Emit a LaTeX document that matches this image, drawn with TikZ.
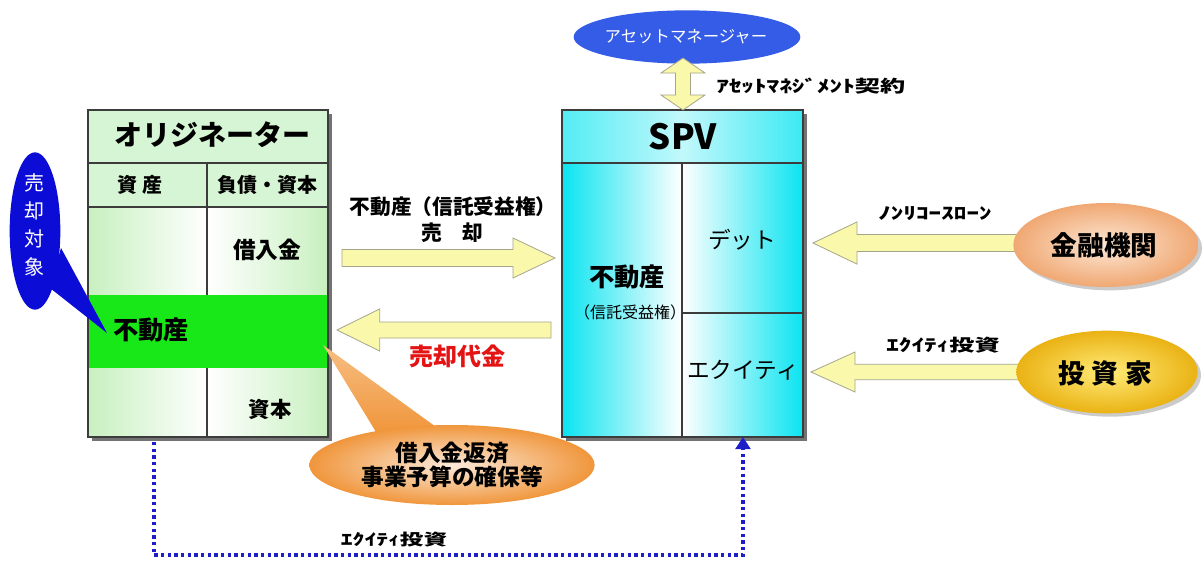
\documentclass[tikz,border=0pt]{standalone}
\usepackage{fontspec}
\setmainfont{Noto Sans CJK JP}
\newfontfamily\hwfont[FakeStretch=1.5]{Noto Sans CJK JP}
\usetikzlibrary{calc,shapes.geometric,arrows.meta,shadows}
\newcommand\fsz[2]{\fontsize{#1}{#2}\selectfont}
\definecolor{ohdr}{RGB}{214,245,212}
\definecolor{olight}{RGB}{200,240,192}
\definecolor{oband}{RGB}{24,232,24}
\definecolor{spvc}{RGB}{10,228,240}
\definecolor{amblue}{RGB}{52,92,230}
\definecolor{bubblue}{RGB}{12,12,215}
\definecolor{arrowfill}{RGB}{250,248,170}
\definecolor{arrowline}{RGB}{165,165,140}
\definecolor{dotblue}{RGB}{30,30,200}
\definecolor{orin}{RGB}{252,234,218}
\definecolor{orout}{RGB}{240,150,60}
\definecolor{ortail}{RGB}{247,190,130}
\definecolor{bankin}{RGB}{253,232,214}
\definecolor{bankout}{RGB}{240,168,115}
\definecolor{invin}{RGB}{255,236,120}
\definecolor{invout}{RGB}{234,178,20}
\definecolor{redtxt}{RGB}{228,20,20}
\definecolor{linec}{RGB}{60,60,60}
\newcommand\harrow[6]{% tail, tip, half shaft, half head, head length, direction
  \draw[blockarrow] let \p1=(#1), \p2=(#2) in
   (\x1,\y1+#3) -- ({\x2-#6*#5},\y1+#3) -- ({\x2-#6*#5},\y1+#4) -- (\x2,\y2)
   -- ({\x2-#6*#5},\y1-#4) -- ({\x2-#6*#5},\y1-#3) -- (\x1,\y1-#3) -- cycle;}
\begin{document}
\begin{tikzpicture}[x=0.75pt,y=-0.75pt,
  every node/.style={inner sep=0pt},
  boxline/.style={draw=linec, line width=0.9pt},
  shadowbox/.style={fill=black!55},
  blockarrow/.style={fill=arrowfill, draw=arrowline, line width=0.6pt},
  dotline/.style={draw=dotblue, line width=2.6pt, dash pattern=on 2.6pt off 2.4pt},
  hwlabel/.style={font=\hwfont\bfseries\fsz{12.6}{13}},
  ellshadow/.style={drop shadow={shadow xshift=2.5pt, shadow yshift=-2.5pt, fill=black!40}}
]
\fill[white] (0,0) rectangle (1204,561);
\useasboundingbox (0,0) rectangle (1204,561);

% ---------- Originator box ----------
\fill[shadowbox] (92,114) rectangle (332,441);
\fill[ohdr] (88,110) rectangle (328,207);
\shade[left color=olight, right color=white] (88,207) rectangle (207,437);
\shade[left color=white, right color=olight] (207,207) rectangle (328,437);
\fill[oband] (88,295) rectangle (328,368);
\draw[boxline] (88,163) -- (328,163) (88,207) -- (328,207)
  (207,163) -- (207,295) (207,368) -- (207,437);
\draw[boxline] (88,110) rectangle (328,437);
\node[font=\bfseries\fsz{21}{21}] (otitle) at (212,135) {オリジネーター};
\node[font=\bfseries\fsz{15}{16}] (oasset) at (140,185) {資 産};
\node[font=\bfseries\fsz{15}{16}] (oliab) at (267,185) {負債・資本};
\node[font=\bfseries\fsz{17}{18}] (oloan) at (267,250) {借入金};
\node[font=\bfseries\fsz{19}{20}] (ore) at (151,330) {不動産};
\node[font=\bfseries\fsz{16}{17}] (ocap) at (270,409) {資本};

% ---------- SPV box ----------
\fill[shadowbox] (566,114) rectangle (807,441);
\shade[left color=spvc!70, right color=spvc!80, middle color=spvc!25] (562,110) rectangle (803,163);
\shade[left color=spvc, right color=white] (562,163) rectangle (682,437);
\shade[left color=white, right color=spvc] (682,163) rectangle (803,437);
\draw[boxline] (562,163) -- (803,163) (682,163) -- (682,437) (682,313) -- (803,313);
\draw[boxline] (562,110) rectangle (803,437);
\node[font=\bfseries\fsz{26}{26}] (spvt) at (683,137) {SPV};
\node[font=\bfseries\fsz{19}{20}] (sre) at (627,277) {不動産};
\node[font=\fsz{12}{12}] (strust) at (630,312) {（信託受益権）};
\node[font=\fsz{17}{18}] (sdebt) at (742,240) {デット};
\node[font=\fsz{17}{18}] (seq) at (743,370) {エクイティ};

% ---------- Asset manager ----------
\node[ellipse, fill=amblue, minimum width=170pt, minimum height=40pt] (am) at (687,37) {};
\node[text=white, font=\fsz{12.3}{13}] (amt) at (686,37) {アセットマネージャー};
\coordinate (amb) at (683,58);
\coordinate (spvtop) at (683,110);
\draw[blockarrow] (amb) -- ++(22,15) -- ++(-14.5,0) -- ++(0,22) -- ++(14.5,0) -- (spvtop)
  -- ++(-22,-15) -- ++(14.5,0) -- ++(0,-22) -- ++(-14.5,0) -- cycle;
\node[hwlabel, anchor=west] (amlbl) at (716,86) {ｱｾｯﾄﾏﾈｼﾞﾒﾝﾄ契約};

% ---------- sale / payment arrows ----------
\coordinate (sale1) at (342,258);
\coordinate (sale2) at (555,258);
\harrow{sale1}{sale2}{6.4pt}{15pt}{31.5pt}{1}
\node[font=\bfseries\fsz{15.5}{16}] (salelbl1) at (453,207) {不動産（信託受益権）};
\node[font=\bfseries\fsz{15.5}{16}] (salelbl2) at (452,233) {売　却};
\coordinate (pay1) at (551,330);
\coordinate (pay2) at (337,330);
\harrow{pay1}{pay2}{6pt}{15.8pt}{32pt}{-1}
\node[text=redtxt, font=\bfseries\fsz{18}{18}] (paylbl) at (457,356) {売却代金};

% ---------- bank / investor ----------
\coordinate (loan1) at (1028,243);
\coordinate (loan2) at (813,243);
\harrow{loan1}{loan2}{6.4pt}{15.8pt}{33pt}{-1}
\node[hwlabel] (loanlbl) at (935,214) {ﾉﾝﾘｺｰｽﾛｰﾝ};
\coordinate (eq1) at (1028,372);
\coordinate (eq2) at (811,372);
\harrow{eq1}{eq2}{5.8pt}{15pt}{33pt}{-1}
\node[hwlabel] (eqlbl) at (943,345) {ｴｸｲﾃｨ投資};

\node[ellipse, shade, shading=radial, inner color=bankin, outer color=bankout,
  minimum width=139pt, minimum height=63pt, ellshadow] (bank) at (1106,245) {};
\node[font=\bfseries\fsz{20}{20}] (bankt) at (1104,245) {金融機関};
\node[ellipse, shade, shading=radial, inner color=invin, outer color=invout,
  minimum width=136pt, minimum height=62pt, ellshadow] (inv) at (1107,372) {};
\node[font=\bfseries\fsz{20}{20}] (invt) at (1105,373) {投\hspace{5pt}資\hspace{5pt}家};

% ---------- blue callout ----------
\coordinate (bubtip) at (107,333);
\fill[bubblue] (61,248) -- (bubtip) -- (50,288) -- cycle;
\node[ellipse, fill=bubblue, minimum width=38pt, minimum height=118pt] (bub) at (35,231) {};
\node[text=white, align=center, font=\fsz{15}{21}] (bubt) at (34,225) {売\\却\\対\\象};

% ---------- orange callout ----------
\coordinate (obtip) at (323,345);
\shade[top color=ortail, bottom color=orout] (obtip) -- (443,432) -- (376,432) -- cycle;
\node[ellipse, shade, shading=radial, inner color=orin, outer color=orout,
  minimum width=214pt, minimum height=60pt] (ob) at (452,465) {};
\node[align=center, font=\bfseries\fsz{17}{18}] (obt) at (452,465) {借入金返済\\事業予算の確保等};

% ---------- dotted equity flow ----------
\coordinate (d1) at (154,442);
\coordinate (d2) at (154,555);
\coordinate (d3) at (743,555);
\coordinate (d4) at (743,437);
\draw[dotline, -{Triangle[width=11pt,length=9pt]}] (d1) -- (d2) -- (d3) -- (d4);
\node[hwlabel, font=\hwfont\bfseries\fsz{11.8}{12}] (botlbl) at (394,540) {ｴｸｲﾃｨ投資};
\end{tikzpicture}
\end{document}
